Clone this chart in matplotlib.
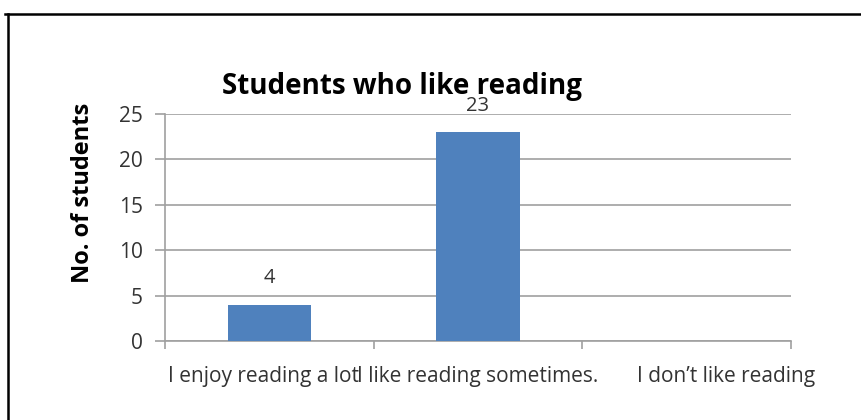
import matplotlib.pyplot as plt
import matplotlib.transforms as mtransforms
from matplotlib.lines import Line2D

plt.rcParams['font.family'] = ['Open Sans', 'DejaVu Sans']

categories = ['I enjoy reading a lot', 'I like reading sometimes.', 'I don\u2019t like reading']
students = [4, 23, 0]
shown_labels = [True, True, False]
y_ticks = [0, 5, 10, 15, 20, 25]

bar_color = '#4F81BD'
grid_color = '#A0A0A0'
text_color = '#333333'


def main():
    fig = plt.figure(figsize=(8.61, 4.2), dpi=100)
    ax = fig.add_axes([0.1916, 0.188, 0.7271, 0.5405])

    centers = [i + 0.5 for i in range(len(categories))]
    ax.bar(centers, students, width=0.4, color=bar_color, zorder=3)

    ax.set_xlim(0, len(categories))
    ax.set_ylim(0, 25)
    ax.set_yticks(y_ticks)
    ax.yaxis.grid(True, color=grid_color, linewidth=1.2, zorder=0)

    # category boundaries get the tick marks, names sit between them
    ax.set_xticks(range(len(categories) + 1))
    ax.set_xticklabels([])
    ax.set_xticks(centers, minor=True)
    ax.set_xticklabels(categories, minor=True, fontsize=15, color=text_color)
    ax.tick_params(axis='x', which='major', length=6, color=grid_color, width=1.2)
    ax.tick_params(axis='x', which='minor', length=0, pad=18)
    ax.tick_params(axis='y', length=7, color=grid_color, width=1.2, pad=9,
                   labelsize=15, labelcolor=text_color)

    # nudge the outer labels to where they sit on the sheet
    offsets = [-6, 0, 39]
    for lbl, dx in zip(ax.xaxis.get_minorticklabels(), offsets):
        lbl.set_transform(lbl.get_transform()
                          + mtransforms.ScaledTranslation(dx / 100, 0, fig.dpi_scale_trans))

    for side in ['top', 'right']:
        ax.spines[side].set_visible(False)
    for side in ['left', 'bottom']:
        ax.spines[side].set_color(grid_color)
        ax.spines[side].set_linewidth(1.2)

    for x, v, show in zip(centers, students, shown_labels):
        if show:
            ax.annotate(str(v), (x, v), xytext=(0, 19), textcoords='offset points',
                        ha='center', va='center', fontsize=14.5, color=text_color)

    fig.text(0.467, 0.793, 'Students who like reading', ha='center', va='center',
             fontsize=20, fontweight='bold', color='black')
    fig.text(0.096, 0.54, 'No. of students', ha='center', va='center', rotation=90,
             fontsize=17, fontweight='bold', color='black')

    # page frame
    fig.add_artist(Line2D([5 / 861, 1], [1 - 14 / 420] * 2, color='black', linewidth=1.8,
                          transform=fig.transFigure))
    fig.add_artist(Line2D([8 / 861] * 2, [0, 1 - 14 / 420], color='black', linewidth=1.8,
                          transform=fig.transFigure))

    fig.savefig('out.png', dpi=100)


if __name__ == '__main__':
    main()
